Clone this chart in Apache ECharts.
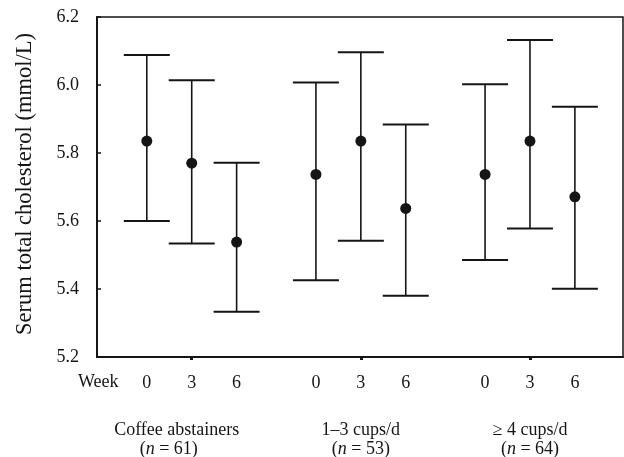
<!DOCTYPE html>
<html>
<head>
<meta charset="utf-8">
<script src="https://cdn.jsdelivr.net/npm/echarts@6/dist/echarts.min.js"></script>
<style>
html,body{margin:0;padding:0;background:#fff;}
#chart{width:624px;height:457px;}
</style>
</head>
<body>
<div id="chart"></div>
<script>
// ---- data ----
var groups = ['Coffee abstainers', '1\u20133 cups/d', '\u2265 4 cups/d'];
var groupN = [61, 53, 64];
var weeks = [0, 3, 6];
// mean serum total cholesterol (mmol/L), per group, per week
var meanVals = [
  [5.835, 5.770, 5.538],
  [5.737, 5.835, 5.637],
  [5.737, 5.835, 5.671]
];
var upperVals = [
  [6.088, 6.014, 5.771],
  [6.007, 6.096, 5.884],
  [6.002, 6.132, 5.936]
];
var lowerVals = [
  [5.600, 5.534, 5.333],
  [5.426, 5.542, 5.380],
  [5.485, 5.578, 5.401]
];
var yTicks = [5.2, 5.4, 5.6, 5.8, 6.0, 6.2];

// ---- layout helpers ----
var WEEK_STEP = 0.0885; // x spacing per week within a group (group spacing = 1)
function xPos(g, w) { return (g + 1) + (w - 3) * WEEK_STEP; }

var errData = [], meanData = [], labelVals = [], labelMap = {};
groups.forEach(function (name, g) {
  weeks.forEach(function (w, k) {
    var x = xPos(g, w);
    errData.push([x, lowerVals[g][k], upperVals[g][k]]);
    meanData.push([x, meanVals[g][k]]);
    labelVals.push(x);
    labelMap[x.toFixed(4)] = String(w);
  });
});
var groupCenters = groups.map(function (n, g) { return g + 1; });

var FONT = "'Liberation Serif', 'Times New Roman', serif";
var INK = '#151515';

var chart = echarts.init(document.getElementById('chart'));
chart.setOption({
  animation: false,
  backgroundColor: '#fff',
  grid: {
    left: 97, top: 17, right: 1, bottom: 100,
    outerBoundsMode: 'none', containLabel: false,
    show: true, borderColor: INK, borderWidth: 1.5, backgroundColor: 'transparent'
  },
  xAxis: [{
    type: 'value', min: 0.44, max: 3.55,
    splitLine: { show: false },
    axisLine: { show: true, onZero: false, lineStyle: { color: INK, width: 2 } },
    axisTick: { show: true, customValues: groupCenters, length: 3, lineStyle: { color: INK, width: 3 } },
    axisLabel: {
      show: true, customValues: labelVals, margin: 17,
      fontFamily: FONT, fontSize: 18, color: INK,
      formatter: function (v) { return labelMap[Number(v).toFixed(4)] || ''; }
    }
  }, {
    type: 'value', min: 0.44, max: 3.55, position: 'bottom',
    splitLine: { show: false },
    axisLine: { show: false }, axisTick: { show: false },
    axisLabel: {
      show: true, customValues: groupCenters, margin: 64,
      formatter: function (v) {
        var g = Math.round(v) - 1;
        if (g < 0 || g >= groups.length) return '';
        var s = g === 0 ? '0' : '';
        return '{t' + s + '|' + groups[g] + '}\n{p|(}{i|n}{p' + s + '| = ' + groupN[g] + ')}';
      },
      rich: {
        t: { fontFamily: FONT, fontSize: 18, color: INK, lineHeight: 19 },
        t0: { fontFamily: FONT, fontSize: 18, color: INK, lineHeight: 19, padding: [0, 30, 0, 0] },
        p: { fontFamily: FONT, fontSize: 18, color: INK, lineHeight: 19 },
        p0: { fontFamily: FONT, fontSize: 18, color: INK, lineHeight: 19, padding: [0, 46, 0, 0] },
        i: { fontFamily: FONT, fontSize: 18, color: INK, lineHeight: 19, fontStyle: 'italic' }
      }
    }
  }],
  yAxis: {
    type: 'value', min: 5.2, max: 6.2, interval: 0.2,
    name: 'Serum total cholesterol (mmol/L)',
    nameLocation: 'middle', nameRotate: 90, nameGap: 60, nameMoveOverlap: false,
    nameTextStyle: { fontFamily: FONT, fontSize: 22.5, color: INK, padding: [0, 0, 0, 6] },
    splitLine: { show: false },
    axisLine: { show: true, lineStyle: { color: INK, width: 2 } },
    axisTick: { show: true, inside: true, length: 4, lineStyle: { color: INK, width: 1.5 } },
    axisLabel: {
      margin: 18, fontFamily: FONT, fontSize: 18, color: INK,
      formatter: function (v) { return Number(v).toFixed(1); }
    }
  },
  graphic: [{
    type: 'text', left: 78, top: 373,
    style: { text: 'Week', fontFamily: FONT, fontSize: 18, fill: INK }
  }],
  series: [{
    type: 'custom',
    xAxisIndex: 0,
    data: errData,
    encode: { x: 0, y: [1, 2] },
    renderItem: function (params, api) {
      var x = api.value(0);
      var lo = api.coord([x, api.value(1)]);
      var hi = api.coord([x, api.value(2)]);
      var hw = 23;
      var st = { stroke: INK, lineWidth: 1.6 };
      return {
        type: 'group',
        children: [
          { type: 'line', shape: { x1: lo[0], y1: lo[1], x2: hi[0], y2: hi[1] }, style: st },
          { type: 'line', shape: { x1: hi[0] - hw, y1: hi[1], x2: hi[0] + hw, y2: hi[1] }, style: { stroke: INK, lineWidth: 2 } },
          { type: 'line', shape: { x1: lo[0] - hw, y1: lo[1], x2: lo[0] + hw, y2: lo[1] }, style: { stroke: INK, lineWidth: 2 } }
        ]
      };
    },
    z: 2
  }, {
    type: 'scatter',
    xAxisIndex: 0,
    data: meanData,
    symbol: 'circle', symbolSize: 11,
    itemStyle: { color: INK, opacity: 1 },
    z: 3
  }]
});
</script>
</body>
</html>
